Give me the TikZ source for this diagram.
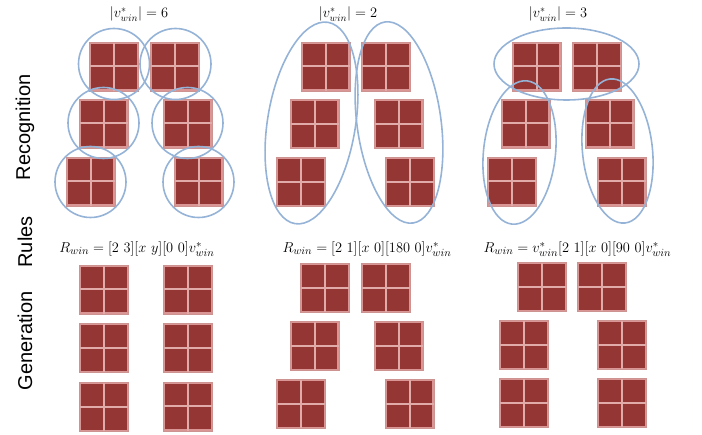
\documentclass[tikz,border=0pt]{standalone}
\usepackage{fontspec}
\newfontfamily\labelfont{Liberation Sans}
\definecolor{winred}{HTML}{943634}
\definecolor{winpink}{HTML}{D99694}
\definecolor{ringblue}{HTML}{95B3D7}
\tikzset{
  win/.style={minimum size=49pt, inner sep=0pt, fill=winpink, draw=winpink!85!gray, line width=0.4pt,
    path picture={
      \fill[winred] ([shift={(1.8pt,1.8pt)}]path picture bounding box.south west) rectangle ([shift={(-1.8pt,-1.8pt)}]path picture bounding box.north east);
      \draw[winpink!80!white, line width=2pt] (path picture bounding box.north) -- (path picture bounding box.south)
        (path picture bounding box.west) -- (path picture bounding box.east);
    }},
  ring/.style={draw=ringblue, line width=1.6pt},
  sidelabel/.style={font=\labelfont\fontsize{20}{24}\selectfont, rotate=90, inner sep=0pt},
  mathlabel/.style={font=\fontsize{14}{16}\selectfont, inner sep=0pt},
  rulelabel/.style={font=\fontsize{15}{17}\selectfont, inner sep=0pt}
}
\begin{document}
\begin{tikzpicture}[x=1pt,y=1pt]
\useasboundingbox (0,0) rectangle (702,435);
% side labels
\node[sidelabel] (lrec) at (25,307.5) {Recognition};
\node[sidelabel] (lrul) at (25,193) {Rules};
\node[sidelabel] (lgen) at (25,94) {Generation};
% titles
\node[mathlabel] (t1) at (139,421) {$|v^*_{win}| = 6$};
\node[mathlabel] (t2) at (348,421) {$|v^*_{win}| = 2$};
\node[mathlabel] (t3) at (558,421) {$|v^*_{win}| = 3$};
% rules
\node[rulelabel] (r1) at (137,186) {$R_{win} = [2\ 3][x\ y][0\ 0]v^*_{win}$};
\node[rulelabel] (r2) at (367,186) {$R_{win} = [2\ 1][x\ 0][180\ 0]v^*_{win}$};
\node[rulelabel] (r3) at (577.5,186) {$R_{win} = v^*_{win}[2\ 1][x\ 0][90\ 0]v^*_{win}$};
% recognition panel 1
\node[win] (a1) at (114,368.5) {};
\node[win] (a2) at (175,368.5) {};
\node[win] (a3) at (103.5,311.5) {};
\node[win] (a4) at (187.5,311.5) {};
\node[win] (a5) at (90.5,253.5) {};
\node[win] (a6) at (198.5,253.5) {};
% recognition panel 2
\node[win] (b1) at (325.5,368.5) {};
\node[win] (b2) at (386,368.5) {};
\node[win] (b3) at (314.5,311) {};
\node[win] (b4) at (398.5,311) {};
\node[win] (b5) at (301,253) {};
\node[win] (b6) at (410,253) {};
% recognition panel 3
\node[win] (c1) at (536.5,368.5) {};
\node[win] (c2) at (597,368.5) {};
\node[win] (c3) at (525.5,311.5) {};
\node[win] (c4) at (609.5,311.5) {};
\node[win] (c5) at (512,253.5) {};
\node[win] (c6) at (621.5,253.5) {};
% rings panel 1
\draw[ring] (114,371) circle[radius=35.5];
\draw[ring] (175.5,371) circle[radius=35.5];
\draw[ring] (103.5,312) circle[radius=35.5];
\draw[ring] (187.5,312) circle[radius=35.5];
\draw[ring] (90.5,253) circle[radius=35.5];
\draw[ring] (198.5,253) circle[radius=35.5];
% rings panel 2
\draw[ring] (311.5,312) ellipse[x radius=44, y radius=102, rotate=-9.3];
\draw[ring] (399,312.5) ellipse[x radius=42, y radius=101.5, rotate=7.9];
% rings panel 3
\draw[ring] (566.5,371) ellipse[x radius=72.5, y radius=36];
\draw[ring] (519.5,282.5) ellipse[x radius=36, y radius=72, rotate=-6];
\draw[ring] (617.5,284) ellipse[x radius=35, y radius=72.4, rotate=5.9];
% generation panel 1
\node[win] (d1) at (104,145.5) {};
\node[win] (d2) at (188,145.5) {};
\node[win] (d3) at (104,87) {};
\node[win] (d4) at (188,87) {};
\node[win] (d5) at (104,28) {};
\node[win] (d6) at (188,28.5) {};
% generation panel 2
\node[win] (e1) at (325,147) {};
\node[win] (e2) at (386,147) {};
\node[win] (e3) at (314.5,89) {};
\node[win] (e4) at (398.5,89) {};
\node[win] (e5) at (301,31) {};
\node[win] (e6) at (409.5,31) {};
% generation panel 3
\node[win] (f1) at (542,148) {};
\node[win] (f2) at (602,148) {};
\node[win] (f3) at (524,90) {};
\node[win] (f4) at (622,90) {};
\node[win] (f5) at (524,32) {};
\node[win] (f6) at (622,32) {};
\end{tikzpicture}
\end{document}
